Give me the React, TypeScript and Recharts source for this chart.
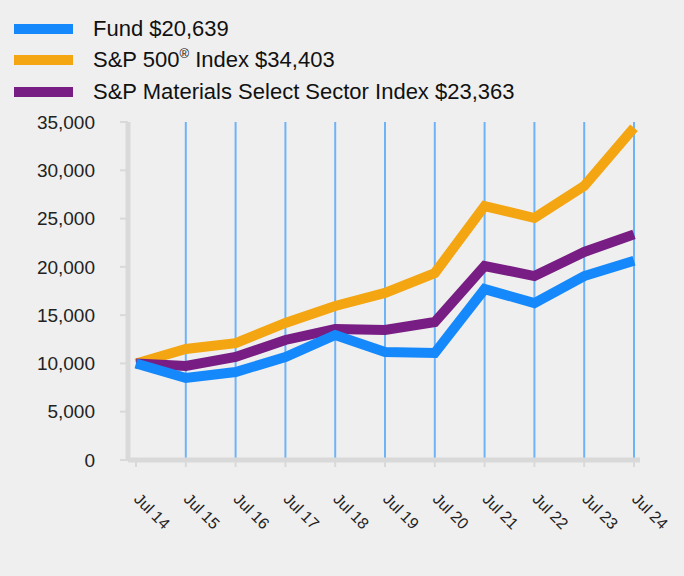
import React from 'react'
import { CartesianGrid, Line, LineChart, ReferenceLine, XAxis, YAxis } from 'recharts'

const years = ['Jul 14', 'Jul 15', 'Jul 16', 'Jul 17', 'Jul 18', 'Jul 19', 'Jul 20', 'Jul 21', 'Jul 22', 'Jul 23', 'Jul 24']
const fund = [10000, 8490, 9110, 10670, 12940, 11180, 11080, 17700, 16250, 19050, 20639]
const sp500 = [10000, 11490, 12100, 14190, 15950, 17300, 19360, 26300, 25060, 28370, 34403]
const materials = [10000, 9730, 10670, 12430, 13560, 13460, 14290, 20090, 19050, 21540, 23363]
const yTicks = [0, 5000, 10000, 15000, 20000, 25000, 30000, 35000]

const data = years.map((date, i) => ({
  date,
  fund: fund[i],
  sp500: sp500[i],
  materials: materials[i],
}))

const font = 'Arial, "Liberation Sans", sans-serif'
const colors = {
  fund: '#1589fc',
  sp500: '#f4a512',
  materials: '#771d83',
}

const XTick = ({ x, y, payload }) => {
  const tx = x - 3
  const ty = y + 31
  return (
    <text
      x={tx}
      y={ty}
      transform={`rotate(45, ${tx}, ${ty})`}
      textAnchor="start"
      fontSize={16}
      fontFamily={font}
      fill="#222"
    >
      {payload.value}
    </text>
  )
}

const legendRows = [
  { key: 'fund', label: <>Fund $20,639</> },
  {
    key: 'sp500',
    label: (
      <>
        S&amp;P 500<sup style={{ fontSize: 13, verticalAlign: 'top', lineHeight: '14px' }}>®</sup> Index $34,403
      </>
    ),
  },
  { key: 'materials', label: <>S&amp;P Materials Select Sector Index $23,363</> },
]

export default function App() {
  return (
    <div
      style={{
        position: 'absolute',
        top: 0,
        left: 0,
        width: 684,
        height: 576,
        background: '#efefef',
        fontFamily: font,
      }}
    >
      <div style={{ position: 'absolute', top: 13, left: 14 }}>
        {legendRows.map((row) => (
          <div key={row.key} style={{ display: 'flex', alignItems: 'center', height: 31.5 }}>
            <div style={{ width: 59, height: 10, background: colors[row.key], marginRight: 20 }} />
            <span style={{ fontSize: 22, color: '#111', lineHeight: '26px' }}>{row.label}</span>
          </div>
        ))}
      </div>
      <LineChart
        width={684}
        height={576}
        data={data}
        margin={{ top: 122, right: 44, bottom: 56, left: 0 }}
        style={{ position: 'absolute', top: 0, left: 0 }}
      >
        <CartesianGrid horizontal={false} vertical={false} />
        <XAxis
          dataKey="date"
          height={60}
          padding={{ left: 8, right: 6 }}
          axisLine={{ stroke: '#d9d9d9', strokeWidth: 5 }}
          tickLine={{ stroke: '#d9d9d9', strokeWidth: 2 }}
          tickSize={7}
          interval={0}
          tick={XTick}
        />
        <YAxis
          width={128}
          domain={[0, 35000]}
          ticks={yTicks}
          interval={0}
          tickFormatter={(v) => v.toLocaleString('en-US')}
          axisLine={{ stroke: '#d9d9d9', strokeWidth: 5 }}
          tickLine={{ stroke: '#d9d9d9', strokeWidth: 2 }}
          tickSize={8}
          tickMargin={25}
          tick={{ fontSize: 19, fill: '#222', fontFamily: font }}
        />
        {years.slice(1).map((yr) => (
          <ReferenceLine key={yr} x={yr} stroke="#6db3f8" strokeWidth={2} />
        ))}
        <Line
          type="linear"
          dataKey="sp500"
          stroke={colors.sp500}
          strokeWidth={10}
          dot={false}
          activeDot={false}
          isAnimationActive={false}
        />
        <Line
          type="linear"
          dataKey="materials"
          stroke={colors.materials}
          strokeWidth={10}
          dot={false}
          activeDot={false}
          isAnimationActive={false}
        />
        <Line
          type="linear"
          dataKey="fund"
          stroke={colors.fund}
          strokeWidth={10}
          dot={false}
          activeDot={false}
          isAnimationActive={false}
        />
      </LineChart>
    </div>
  )
}
